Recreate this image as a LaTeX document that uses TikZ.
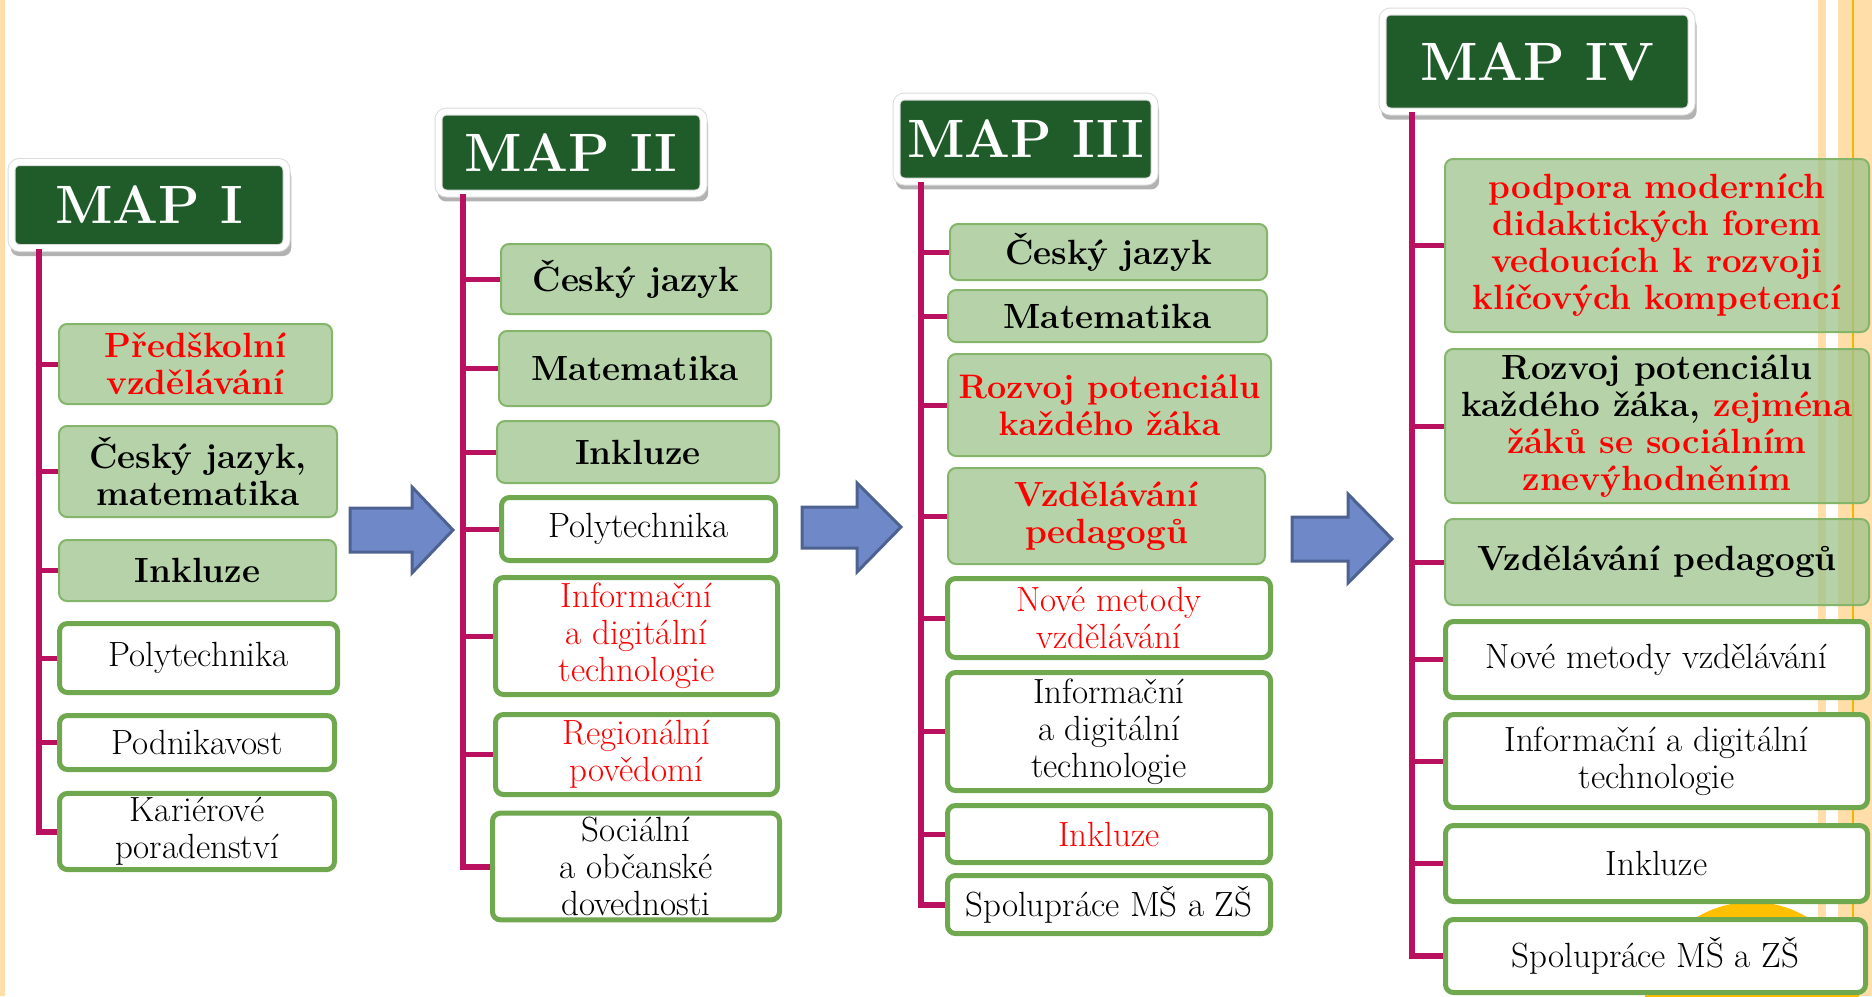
\documentclass[tikz,border=0pt]{standalone}
\usepackage{fontspec}
\usetikzlibrary{shadows}
\definecolor{mapgreen}{RGB}{31,92,42}
\definecolor{boxgreen}{RGB}{157,195,140}
\definecolor{edgegreen}{RGB}{112,168,80}
\definecolor{spinecol}{RGB}{186,16,96}
\definecolor{arrowfill}{RGB}{111,136,199}
\definecolor{arrowedge}{RGB}{78,98,146}
\definecolor{peach}{RGB}{255,222,170}
\definecolor{goldline}{RGB}{242,183,5}
\definecolor{sunyellow}{RGB}{255,192,0}
\tikzset{
  maphead/.style={fill=mapgreen, draw=black!14, line width=0.5pt, double=white, double distance=3pt,
    rounded corners=4pt, text=white, font=\fontsize{27}{30}\selectfont\bfseries,
    drop shadow={shadow xshift=1pt, shadow yshift=-3.5pt, shadow scale=1.02, opacity=0.3, fill=black}},
  gbox/.style={fill=boxgreen, fill opacity=0.75, text opacity=1, draw=edgegreen!85,
    line width=1pt, rounded corners=4pt, align=center, inner sep=2pt,
    font=\fontsize{17.5}{18.5}\selectfont\bfseries},
  wbox/.style={fill=white, draw=edgegreen, line width=2.5pt, rounded corners=4pt,
    align=center, inner sep=2pt, font=\fontsize{17.5}{18.5}\selectfont},
  spine/.style={draw=spinecol, line width=3pt},
  stub/.style={draw=spinecol, line width=2.5pt},
  blockarrow/.style={fill=arrowfill, draw=arrowedge, line width=1.5pt, line join=miter}
}
\begin{document}
\begin{tikzpicture}[x=0.5pt,y=-0.5pt]
  \useasboundingbox (0,0) rectangle (1872,996);
  \fill[peach] (0,0) rectangle (5,996);
  \fill[peach] (1818,0) rectangle (1826,996);
  \fill[peach] (1838,0) rectangle (1872,996);
  \draw[goldline, line width=1pt] (1853,0) -- (1853,996);
  \fill[sunyellow] (1752,1010) circle [radius=54pt];

  \node[maphead, minimum width=137.5pt, minimum height=43pt] (h1) at (149,205) {MAP I};
  \node[gbox, text=red, minimum width=136.5pt, minimum height=40pt] (b11) at (195.5,364) {Předškolní\\vzdělávání};
  \node[gbox, minimum width=139pt, minimum height=45.5pt] (b12) at (198,471.5) {Český jazyk,\\matematika};
  \node[gbox, minimum width=138.5pt, minimum height=30.5pt] (b13) at (197.5,570.5) {Inkluze};
  \node[wbox, minimum width=139pt, minimum height=34.5pt] (b14) at (198.5,658) {Polytechnika};
  \node[wbox, minimum width=137.5pt, minimum height=27pt] (b15) at (197,742.5) {Podnikavost};
  \node[wbox, minimum width=137.5pt, minimum height=38pt] (b16) at (197,831.5) {Kariérové\\poradenství};

  \node[maphead, minimum width=132.5pt, minimum height=41pt] (h2) at (571,152.5) {MAP II};
  \node[gbox, minimum width=135pt, minimum height=35pt] (b21) at (636,279) {Český jazyk};
  \node[gbox, minimum width=136pt, minimum height=37.5pt] (b22) at (635,368.5) {Matematika};
  \node[gbox, minimum width=141pt, minimum height=31pt] (b23) at (638,452) {Inkluze};
  \node[wbox, minimum width=137pt, minimum height=31.5pt] (b24) at (638.5,529) {Polytechnika};
  \node[wbox, text=red, minimum width=141pt, minimum height=58.5pt] (b25) at (636.5,636) {Informační\\a digitální\\technologie};
  \node[wbox, text=red, minimum width=141pt, minimum height=40pt] (b26) at (636.5,754.5) {Regionální\\povědomí};
  \node[wbox, minimum width=143.5pt, minimum height=53pt] (b27) at (636,866.5) {Sociální\\a občanské\\dovednosti};

  \node[maphead, minimum width=129pt, minimum height=42.5pt] (h3) at (1025.5,139) {MAP III};
  \node[gbox, minimum width=158.5pt, minimum height=28pt] (b31) at (1108.5,252) {Český jazyk};
  \node[gbox, minimum width=159.5pt, minimum height=26pt] (b32) at (1107.5,316) {Matematika};
  \node[gbox, text=red, inner sep=0.5pt, font=\fontsize{17}{18.5}\selectfont\bfseries, minimum width=161.5pt, minimum height=51pt] (b33) at (1109.5,405) {Rozvoj potenciálu\\každého žáka};
  \node[gbox, text=red, minimum width=158.5pt, minimum height=48pt] (b34) at (1106.5,516) {Vzdělávání\\pedagogů};
  \node[wbox, text=red, minimum width=161.5pt, minimum height=39.5pt] (b35) at (1109,618) {Nové metody\\vzdělávání};
  \node[wbox, minimum width=161.5pt, minimum height=59pt] (b36) at (1109,731.5) {Informační\\a digitální\\technologie};
  \node[wbox, text=red, minimum width=161.5pt, minimum height=28.5pt] (b37) at (1109,834) {Inkluze};
  \node[wbox, minimum width=161.5pt, minimum height=29pt] (b38) at (1109,904.5) {Spolupráce MŠ a ZŠ};

  \node[maphead, minimum width=154.5pt, minimum height=50pt] (h4) at (1537,61.5) {MAP IV};
  \node[gbox, text=red, minimum width=212pt, minimum height=86.5pt] (b41) at (1657,245.5) {podpora moderních\\didaktických forem\\vedoucích k rozvoji\\klíčových kompetencí};
  \node[gbox, minimum width=212pt, minimum height=77pt] (b42) at (1657,426) {Rozvoj potenciálu\\každého žáka, {\color{red}zejména}\\{\color{red}žáků se sociálním}\\{\color{red}znevýhodněním}};
  \node[gbox, minimum width=212pt, minimum height=43pt] (b43) at (1657,562) {Vzdělávání pedagogů};
  \node[wbox, minimum width=211pt, minimum height=38pt] (b44) at (1656.5,659.5) {Nové metody vzdělávání};
  \node[wbox, minimum width=211pt, minimum height=46.5pt] (b45) at (1656.5,761) {Informační a digitální\\technologie};
  \node[wbox, minimum width=211pt, minimum height=38pt] (b46) at (1656.5,863.5) {Inkluze};
  \node[wbox, minimum width=210pt, minimum height=36.5pt] (b47) at (1655.5,956) {Spolupráce MŠ a ZŠ};

  \coordinate (s1) at ([xshift=14pt]h1.south west);
  \coordinate (s2) at ([xshift=12.5pt]h2.south west);
  \coordinate (s3) at ([xshift=12.5pt]h3.south west);
  \coordinate (s4) at ([xshift=15pt]h4.south west);

  \draw[spine] (s1) |- (b16.west);
  \draw[stub] (s1 |- b11.west) -- (b11.west);
  \draw[stub] (s1 |- b12.west) -- (b12.west);
  \draw[stub] (s1 |- b13.west) -- (b13.west);
  \draw[stub] (s1 |- b14.west) -- (b14.west);
  \draw[stub] (s1 |- b15.west) -- (b15.west);

  \draw[spine] (s2) |- (b27.west);
  \draw[stub] (s2 |- b21.west) -- (b21.west);
  \draw[stub] (s2 |- b22.west) -- (b22.west);
  \draw[stub] (s2 |- b23.west) -- (b23.west);
  \draw[stub] (s2 |- b24.west) -- (b24.west);
  \draw[stub] (s2 |- b25.west) -- (b25.west);
  \draw[stub] (s2 |- b26.west) -- (b26.west);

  \draw[spine] (s3) |- (b38.west);
  \draw[stub] (s3 |- b31.west) -- (b31.west);
  \draw[stub] (s3 |- b32.west) -- (b32.west);
  \draw[stub] (s3 |- b33.west) -- (b33.west);
  \draw[stub] (s3 |- b34.west) -- (b34.west);
  \draw[stub] (s3 |- b35.west) -- (b35.west);
  \draw[stub] (s3 |- b36.west) -- (b36.west);
  \draw[stub] (s3 |- b37.west) -- (b37.west);

  \draw[spine] (s4) |- (b47.west);
  \draw[stub] (s4 |- b41.west) -- (b41.west);
  \draw[stub] (s4 |- b42.west) -- (b42.west);
  \draw[stub] (s4 |- b43.west) -- (b43.west);
  \draw[stub] (s4 |- b44.west) -- (b44.west);
  \draw[stub] (s4 |- b45.west) -- (b45.west);
  \draw[stub] (s4 |- b46.west) -- (b46.west);

  \draw[blockarrow] (350,508) -- (412,508) -- (412,487) -- (453,530) -- (412,573) -- (412,552) -- (350,552) -- cycle;
  \draw[blockarrow] (802,507) -- (857,507) -- (857,483) -- (901,527) -- (857,572) -- (857,548) -- (802,548) -- cycle;
  \draw[blockarrow] (1292,517) -- (1348,517) -- (1348,494) -- (1392,539) -- (1348,583) -- (1348,561) -- (1292,561) -- cycle;
\end{tikzpicture}
\end{document}
